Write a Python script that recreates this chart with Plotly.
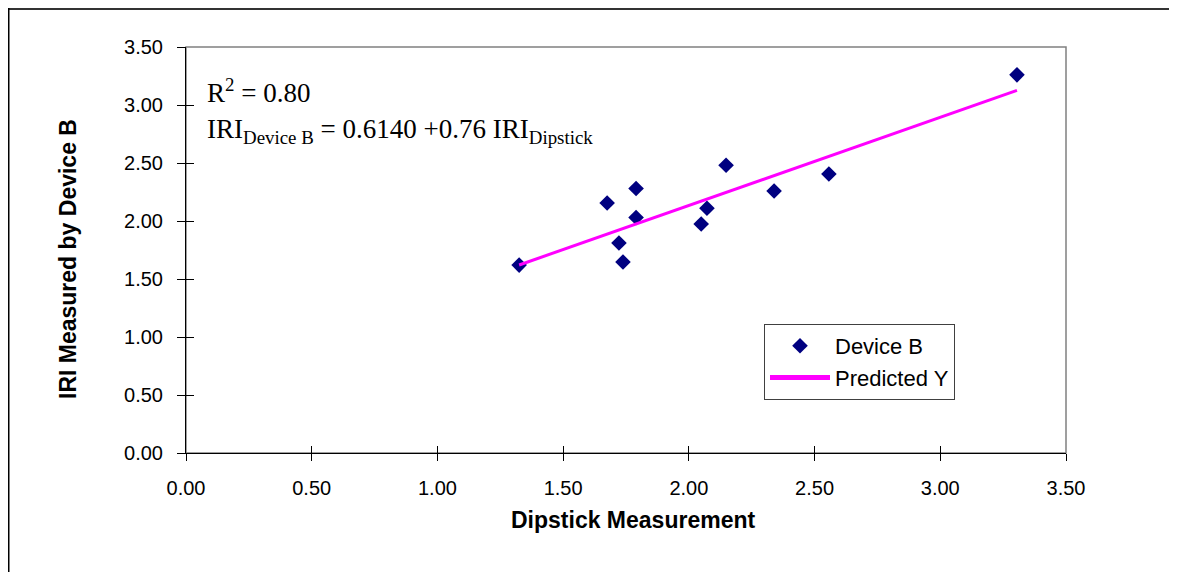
import plotly.graph_objects as go

# Data
dipstick = [1.325, 1.675, 1.722, 1.738, 1.790, 1.790, 2.049, 2.072, 2.148, 2.339, 2.557, 3.305]
device_b = [1.620, 2.155, 1.810, 1.647, 2.280, 2.030, 1.974, 2.110, 2.480, 2.259, 2.405, 3.260]
pred_x = [1.325, 3.305]
pred_y = [1.621, 3.126]
tick_vals = [0.0, 0.5, 1.0, 1.5, 2.0, 2.5, 3.0, 3.5]
tick_text = ["0.00", "0.50", "1.00", "1.50", "2.00", "2.50", "3.00", "3.50"]

# page has an 8px body margin; compensate so the plot lands where the reference has it
OFF = 8
W, H = 1177 - OFF, 572 - OFF
PL, PR, PT, PB = 186, 1066, 47, 453   # plot area in screen pixels
L, T = PL - OFF, PT - OFF
R, B = W - (PR - OFF), H - (PB - OFF)
pw, ph = PR - PL, PB - PT

def px_x(p):
    return (p - PL) / pw

def px_y(p):
    return (PB - p) / ph

fig = go.Figure()
fig.add_trace(go.Scatter(
    x=dipstick, y=device_b, mode="markers", name="Device B",
    marker=dict(symbol="diamond", size=12, color="#000080"),
))
fig.add_trace(go.Scatter(
    x=pred_x, y=pred_y, mode="lines", name="Predicted Y",
    line=dict(color="#FF00FF", width=3),
))

sans = "Liberation Sans, Arial, sans-serif"
serif = "Liberation Serif, Times New Roman, serif"

axis_common = dict(range=[0, 3.5], tickvals=tick_vals, ticktext=tick_text,
                   showgrid=False, zeroline=False)
fig.update_layout(
    width=W, height=H,
    margin=dict(l=L, r=R, t=T, b=B, pad=0),
    paper_bgcolor="white", plot_bgcolor="white",
    font=dict(family=sans, size=20, color="black"),
    xaxis=dict(**axis_common, showline=True, linecolor="black", linewidth=1,
               ticks="outside", ticklen=7, tickcolor="black", ticklabelstandoff=10,
               tickfont=dict(family=sans, size=20)),
    yaxis=dict(**axis_common, showline=True, linecolor="black", linewidth=1,
               ticks="outside", ticklen=8, tickcolor="black", ticklabelstandoff=10,
               tickfont=dict(family=sans, size=20)),
    xaxis2=dict(**axis_common, overlaying="x", matches="x", showline=False,
                ticks="inside", ticklen=7, tickcolor="black", showticklabels=False),
    yaxis2=dict(**axis_common, overlaying="y", matches="y", showline=False,
                ticks="inside", ticklen=8, tickcolor="black", showticklabels=False),
    showlegend=True,
    legend=dict(x=px_x(764), y=px_y(324), xanchor="left", yanchor="top",
                bgcolor="white", bordercolor="#404040", borderwidth=1,
                font=dict(family=sans, size=22), tracegroupgap=0,
                itemwidth=60, itemsizing="constant"),
)

# invisible trace to activate the overlay axes (inside half of the crossing ticks)
fig.add_trace(go.Scatter(x=[None], y=[None], xaxis="x2", yaxis="y2",
                         showlegend=False, hoverinfo="skip"))

fig.add_shape(type="rect", xref="x domain", yref="y domain", x0=0, x1=1, y0=0, y1=1,
              line=dict(color="#808080", width=1.5), layer="below")
# outer frame (top and left edges)
fig.add_shape(type="line", xref="paper", yref="paper", x0=px_x(OFF + 0.75), x1=px_x(1300),
              y0=px_y(OFF + 1), y1=px_y(OFF + 1), line=dict(color="#333333", width=2))
fig.add_shape(type="line", xref="paper", yref="paper", x0=px_x(OFF + 0.75), x1=px_x(OFF + 0.75),
              y0=px_y(OFF), y1=px_y(700), line=dict(color="black", width=1.5))

fig.add_annotation(x=px_x(205), y=px_y(91), xref="paper", yref="paper",
                   xanchor="left", yanchor="middle", showarrow=False,
                   text="R<sup>2</sup> = 0.80", font=dict(family=serif, size=27))
fig.add_annotation(x=px_x(205), y=px_y(131), xref="paper", yref="paper",
                   xanchor="left", yanchor="middle", showarrow=False,
                   text="IRI<sub>Device B</sub> = 0.6140 +0.76 IRI<sub>Dipstick</sub>",
                   font=dict(family=serif, size=27))
fig.add_annotation(x=px_x(633), y=px_y(520), xref="paper", yref="paper",
                   xanchor="center", yanchor="middle", showarrow=False,
                   text="<b>Dipstick Measurement</b>", font=dict(family=sans, size=23))
fig.add_annotation(x=px_x(68), y=px_y(259), xref="paper", yref="paper",
                   xanchor="center", yanchor="middle", showarrow=False, textangle=-90,
                   text="<b>IRI Measured by Device B</b>", font=dict(family=sans, size=23))

fig.write_html("out.html")
